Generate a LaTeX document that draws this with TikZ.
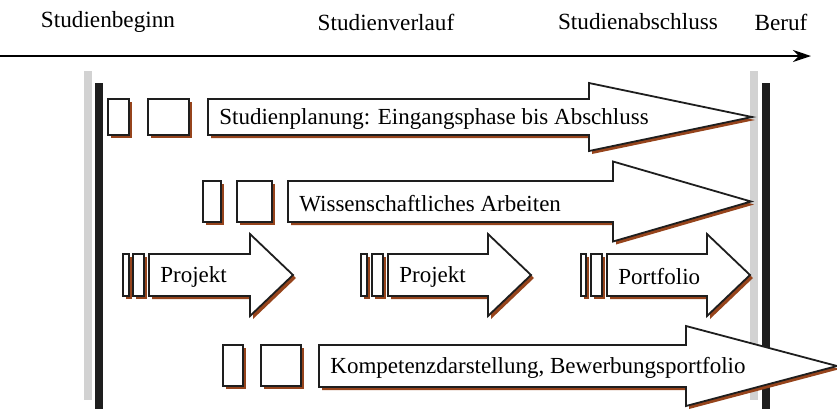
\documentclass[tikz,border=0pt]{standalone}
\usepackage{fontspec}
\setmainfont{Liberation Serif}
\usetikzlibrary{calc, arrows.meta}

\definecolor{rostbraun}{RGB}{150,68,28}
\definecolor{hellgrau}{RGB}{210,210,210}
\definecolor{fastschwarz}{RGB}{30,30,30}

\tikzset{
  schatten/.style = {fill=rostbraun},
  umriss/.style = {draw=fastschwarz, fill=white, line width=0.9pt, line join=miter},
  pfeiltext/.style = {anchor=west, inner sep=0pt, font=\fontsize{11.5}{14}\selectfont},
  kopftext/.style = {inner sep=0pt, font=\fontsize{11.6}{14}\selectfont}
}

% #1 name, #2 text, #3 start, #4 head back, #5 tip, #6 centre y, #7 body half, #8 head half
\newcommand{\blockpfeil}[8]{%
  \fill[schatten, shift={(3,3)}] (#3,{#6-#7}) -- (#4,{#6-#7}) -- (#4,{#6-#8}) --
    (#5,#6) -- (#4,{#6+#8}) -- (#4,{#6+#7}) -- (#3,{#6+#7}) -- cycle;
  \filldraw[umriss] (#3,{#6-#7}) -- (#4,{#6-#7}) -- (#4,{#6-#8}) --
    (#5,#6) -- (#4,{#6+#8}) -- (#4,{#6+#7}) -- (#3,{#6+#7}) -- cycle;
  \node[pfeiltext] (#1) at ({#3+11},{#6+2}) {#2};
}
% #1 left, #2 top, #3 right, #4 bottom
\newcommand{\kaestchen}[4]{%
  \fill[schatten, shift={(3,3)}] (#1,#2) rectangle (#3,#4);
  \filldraw[umriss] (#1,#2) rectangle (#3,#4);
}

\begin{document}
\begin{tikzpicture}[x=0.5pt, y=-0.5pt]
\useasboundingbox (0,0) rectangle (837,409);

% time axis
\node[kopftext] (beginn) at (108,22) {Studienbeginn};
\node[kopftext] (verlauf) at (386,22) {Studienverlauf};
\node[kopftext] (abschluss) at (638,22) {Studienabschluss};
\node[kopftext] (beruf) at (781,22) {Beruf};
\coordinate (achseL) at (0,56);
\coordinate (achseR) at (811,56);
\draw[line width=0.9pt, -{Stealth[length=9pt, width=6pt]}] (achseL) -- (achseR);

% start and end bars
\fill[hellgrau] (84,71) rectangle (92,400);
\fill[fastschwarz] (95,83) rectangle (103,409);
\fill[hellgrau] (750,71) rectangle (758,400);
\fill[fastschwarz] (762,83) rectangle (770,409);

% row 1
\kaestchen{108}{99}{129}{135}
\kaestchen{148}{99}{189}{135}
\blockpfeil{planung}{Studienplanung: Eingangsphase bis Abschluss}{208}{589}{752}{117}{18}{34}

% row 2
\kaestchen{203}{181}{221}{222}
\kaestchen{237}{181}{272}{222}
\blockpfeil{arbeiten}{Wissenschaftliches Arbeiten}{288}{613}{751}{201.5}{20.5}{40}

% row 3
\kaestchen{123}{254}{129}{296}
\kaestchen{133}{254}{144}{296}
\blockpfeil{projektA}{Projekt}{149}{250}{293}{275}{21}{41}
\kaestchen{361}{254}{367}{296}
\kaestchen{372}{254}{383}{296}
\blockpfeil{projektB}{Projekt}{388}{488}{531}{275}{21}{41}
\kaestchen{581}{254}{586}{296}
\kaestchen{591}{254}{602}{296}
\blockpfeil{portfolio}{Portfolio}{607}{707}{750}{275}{21}{41}

% row 4
\kaestchen{223}{345}{243}{386}
\kaestchen{261}{345}{301}{386}
\blockpfeil{kompetenz}{Kompetenzdarstellung, Bewerbungsportfolio}{319}{686}{837}{366}{21}{40}
\end{tikzpicture}
\end{document}
